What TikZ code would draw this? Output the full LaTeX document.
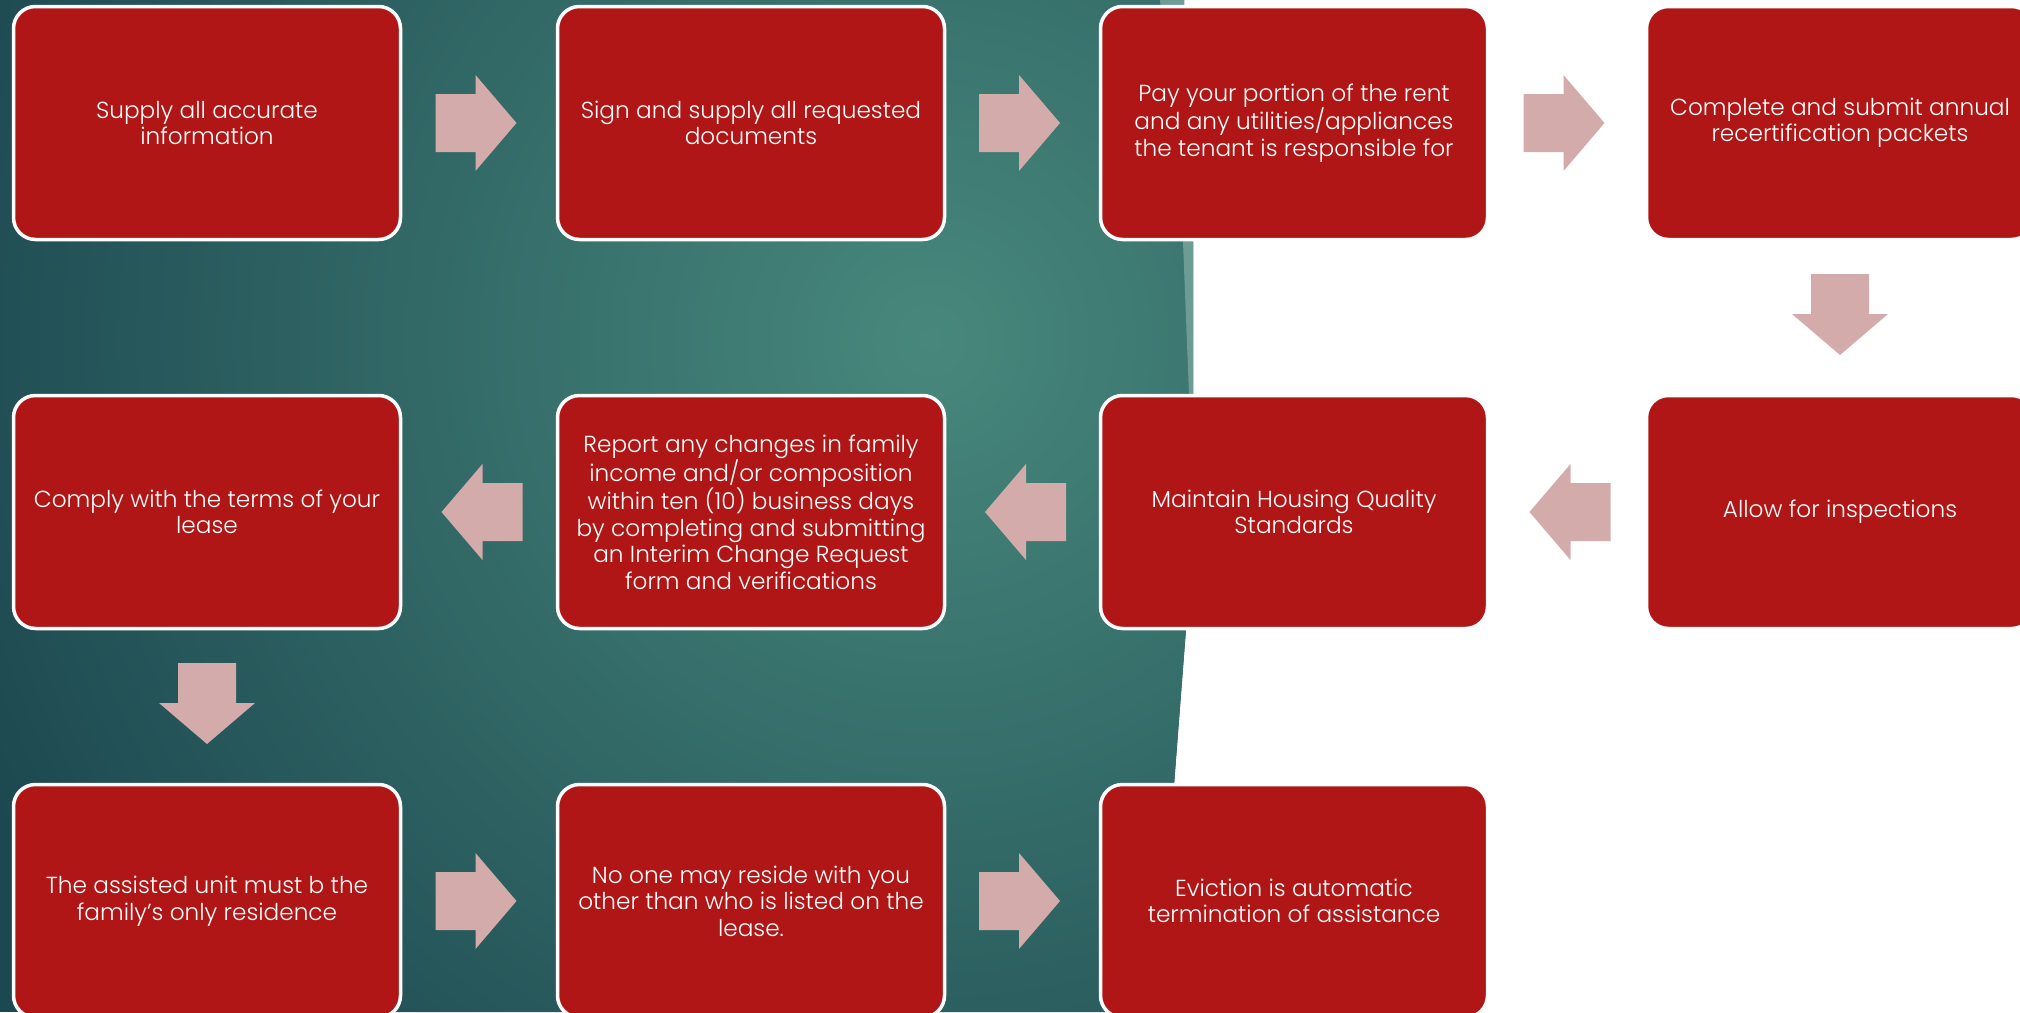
\documentclass[tikz,border=0pt]{standalone}
\usepackage{fontspec}
\setmainfont{Poppins}[UprightFont={* Light}]
\usetikzlibrary{calc}
\definecolor{boxred}{HTML}{B01616}
\definecolor{arrowpink}{HTML}{D4ABAB}
\definecolor{tealD}{HTML}{1C4850}
\definecolor{tealL}{HTML}{47887C}
\definecolor{tealBand}{HTML}{6C9C94}
\begin{document}
\begin{tikzpicture}[x=1pt,y=-1pt,
  stepbox/.style={draw=white, line width=3.5pt, fill=boxred, rounded corners=22pt,
    minimum width=387pt, minimum height=233pt, inner sep=0pt, text=white,
    align=center, font=\fontsize{23.2}{26.5}\selectfont},
  blockarrow/.pic={\fill[arrowpink] (-43.5,-29) -- (-3.5,-29) -- (-3.5,-48) -- (37.5,0)
    -- (-3.5,48) -- (-3.5,29) -- (-43.5,29) -- cycle;}
]
\useasboundingbox (0,0) rectangle (2020,1012);
\clip (0,0) rectangle (2020,1012);
\fill[white] (0,0) rectangle (2020,1012);
\begin{scope}
  \clip (0,0) -- (1184,0) -- (1193,242) -- (1193,395) -- (1186,629) -- (1174,785)
    -- (1170,1012) -- (0,1012) -- cycle;
  \fill[tealD] (0,0) rectangle (1200,1012);
  \shade[inner color=tealL, outer color=tealD] (930,340) circle[radius=1050pt];
  \fill[tealBand] (1160,0) -- (1184,0) -- (1193,242) -- (1193,395) -- (1189,395)
    -- (1183,242) -- cycle;
\end{scope}

% row 1
\node[stepbox] (b1) at (207,123) {Supply all accurate\\information};
\node[stepbox] (b2) at (751,123) {Sign and supply all requested\\documents};
\node[stepbox] (b3) at (1294,123) {Pay your portion of the rent\\and any utilities/appliances\\the tenant is responsible for};
\node[stepbox] (b4) at (1840,123) {Complete and submit annual\\recertification packets};
% row 2
\node[stepbox] (b5) at (1840,512) {Allow for inspections};
\node[stepbox] (b6) at (1294,512) {Maintain Housing Quality\\Standards};
\node[stepbox] (b7) at (751,512) {Report any changes in family\\income and/or composition\\within ten (10) business days\\by completing and submitting\\an Interim Change Request\\form and verifications};
\node[stepbox] (b8) at (207,512) {Comply with the terms of your\\lease};
% row 3
\node[stepbox] (b9) at (207,901) {The assisted unit must b the\\family's only residence};
\node[stepbox] (b10) at (751,901) {No one may reside with you\\other than who is listed on the\\lease.};
\node[stepbox] (b11) at (1294,901) {Eviction is automatic\\termination of assistance};

% arrows
\path ($(b1.east)!0.5!(b2.west)$) pic {blockarrow};
\path ($(b2.east)!0.5!(b3.west)$) pic {blockarrow};
\path ($(b3.east)!0.5!(b4.west)$) pic {blockarrow};
\path ($(b4.south)!0.5!(b5.north)$) pic[rotate=-90] {blockarrow};
\path ($(b5.west)!0.5!(b6.east)$) pic[rotate=180] {blockarrow};
\path ($(b6.west)!0.5!(b7.east)$) pic[rotate=180] {blockarrow};
\path ($(b7.west)!0.5!(b8.east)$) pic[rotate=180] {blockarrow};
\path ($(b8.south)!0.5!(b9.north)$) pic[rotate=-90] {blockarrow};
\path ($(b9.east)!0.5!(b10.west)$) pic {blockarrow};
\path ($(b10.east)!0.5!(b11.west)$) pic {blockarrow};
\end{tikzpicture}
\end{document}
